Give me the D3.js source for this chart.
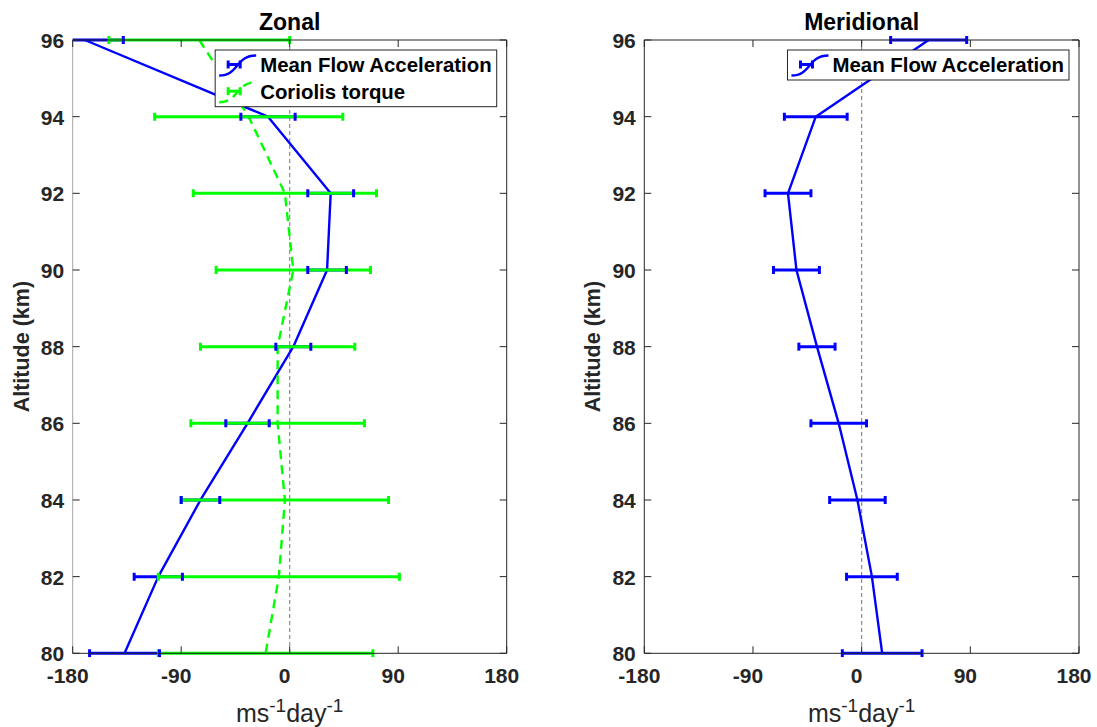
<!DOCTYPE html>
<html>
<head>
<meta charset="utf-8">
<script src="https://cdn.jsdelivr.net/npm/d3@7"></script>
<style>
  html, body { margin: 0; padding: 0; background: #fff; }
  svg { display: block; font-family: "Liberation Sans", Arial, sans-serif; }
</style>
</head>
<body>
<svg id="chart" width="1097" height="727"></svg>
<script>
// Altitude levels (km)
const altitudes = [80, 82, 84, 86, 88, 90, 92, 94, 96];

// Zonal mean flow acceleration and its uncertainty (m/s/day)
const zonalMFA    = [-137, -109, -74, -35, 3, 31, 34, -18, -170];
const zonalMFAErr = [29, 20, 16, 18, 14.5, 16, 19, 22.5, 32];

// Zonal Coriolis torque and its uncertainty (m/s/day)
const coriolis    = [-20, -9, -4, -10, -10, 3, -4, -34, -75];
const coriolisErr = [89, 100, 86, 72, 64, 64, 76, 78, 75];

// Meridional mean flow acceleration and its uncertainty (m/s/day)
const meridMFA    = [17, 8.5, -3.5, -19, -37, -54, -61, -38, 55.5];
const meridMFAErr = [33, 21, 23, 23, 15, 19, 19, 26, 31.5];

const xTicks = [-180, -90, 0, 90, 180];
const yTicks = [80, 82, 84, 86, 88, 90, 92, 94, 96];

const BLUE = "#0000ff", GREEN = "#00ff00", AXIS = "#262626";

const svg = d3.select("#chart");

const panels = [
  { title: "Zonal", left: 72.7, right: 506.7, leftAxisColor: "#a6a6a6",
    series: [
      { name: "Mean Flow Acceleration", vals: zonalMFA, errs: zonalMFAErr, color: BLUE, dash: null },
      { name: "Coriolis torque", vals: coriolis, errs: coriolisErr, color: GREEN, dash: "9,6" }
    ] },
  { title: "Meridional", left: 644.3, right: 1079, leftAxisColor: AXIS,
    series: [
      { name: "Mean Flow Acceleration", vals: meridMFA, errs: meridMFAErr, color: BLUE, dash: null }
    ] }
];

const plotTop = 40, plotBottom = 653.3;

panels.forEach((p, pi) => {
  const x = d3.scaleLinear().domain([-180, 180]).range([p.left, p.right]);
  const y = d3.scaleLinear().domain([80, 96]).range([plotBottom, plotTop]);
  const g = svg.append("g");
  const clipId = "clip" + pi;
  svg.append("clipPath").attr("id", clipId)
    .append("rect").attr("x", p.left).attr("y", plotTop - 4)
    .attr("width", p.right - p.left).attr("height", plotBottom - plotTop + 8);

  // zero reference line
  g.append("line")
    .attr("x1", x(0)).attr("x2", x(0)).attr("y1", plotTop).attr("y2", plotBottom)
    .attr("stroke", "#8c8c8c").attr("stroke-width", 1.2).attr("stroke-dasharray", "4,3");

  const plot = g.append("g").attr("clip-path", `url(#${clipId})`);

  const seriesData = p.series.map(s => ({
    ...s,
    pts: altitudes.map((a, i) => ({ alt: a, v: s.vals[i], e: s.errs[i] }))
      .sort((a, b) => b.alt - a.alt)
  }));

  const line = d3.line().x(d => x(d.v)).y(d => y(d.alt));

  // mean profiles
  seriesData.forEach(s => {
    plot.append("path").datum(s.pts)
      .attr("d", line).attr("fill", "none")
      .attr("stroke", s.color).attr("stroke-width", 2.4)
      .attr("stroke-linejoin", "round")
      .attr("stroke-dasharray", s.dash);
  });

  // horizontal error bars
  seriesData.forEach(s => {
    plot.append("g").selectAll("line").data(s.pts).join("line")
      .attr("x1", d => x(d.v - d.e)).attr("x2", d => x(d.v + d.e))
      .attr("y1", d => y(d.alt)).attr("y2", d => y(d.alt))
      .attr("stroke", s.color).attr("stroke-width", 3);
  });
  // end caps (drawn last so the primary series caps stay visible)
  seriesData.slice().reverse().forEach(s => {
    const caps = s.pts.flatMap(d => [{ alt: d.alt, v: d.v - d.e }, { alt: d.alt, v: d.v + d.e }]);
    plot.append("g").selectAll("line").data(caps).join("line")
      .attr("x1", d => x(d.v)).attr("x2", d => x(d.v))
      .attr("y1", d => y(d.alt) - 4).attr("y2", d => y(d.alt) + 4)
      .attr("stroke", s.color).attr("stroke-width", 3);
  });

  // axes box
  const box = g.append("g").attr("fill", "none").attr("stroke-width", 1);
  box.append("line").attr("x1", p.left).attr("x2", p.right).attr("y1", plotTop).attr("y2", plotTop).attr("stroke", AXIS);
  box.append("line").attr("x1", p.left).attr("x2", p.right).attr("y1", plotBottom).attr("y2", plotBottom).attr("stroke", AXIS);
  box.append("line").attr("x1", p.right).attr("x2", p.right).attr("y1", plotTop).attr("y2", plotBottom).attr("stroke", AXIS);
  box.append("line").attr("x1", p.left).attr("x2", p.left).attr("y1", plotTop).attr("y2", plotBottom).attr("stroke", p.leftAxisColor);

  // inward ticks
  const tickLen = 7;
  const xt = g.append("g").attr("stroke", AXIS);
  xTicks.forEach(t => {
    xt.append("line").attr("x1", x(t)).attr("x2", x(t)).attr("y1", plotBottom).attr("y2", plotBottom - tickLen);
    xt.append("line").attr("x1", x(t)).attr("x2", x(t)).attr("y1", plotTop).attr("y2", plotTop + tickLen);
  });
  yTicks.forEach(t => {
    xt.append("line").attr("x1", p.left).attr("x2", p.left + tickLen).attr("y1", y(t)).attr("y2", y(t));
    xt.append("line").attr("x1", p.right).attr("x2", p.right - tickLen).attr("y1", y(t)).attr("y2", y(t));
  });

  // tick labels
  g.append("g").selectAll("text").data(xTicks).join("text")
    .attr("x", d => x(d) - 5).attr("y", plotBottom + 30)
    .attr("text-anchor", "middle").attr("font-size", 21).attr("font-weight", "bold")
    .attr("fill", AXIS).text(d => d);
  g.append("g").selectAll("text").data(yTicks).join("text")
    .attr("x", p.left - 8.5).attr("y", d => y(d) + 8)
    .attr("text-anchor", "end").attr("font-size", 21).attr("font-weight", "bold")
    .attr("fill", AXIS).text(d => d);

  // title
  g.append("text").attr("x", (p.left + p.right) / 2).attr("y", plotTop - 10)
    .attr("text-anchor", "middle").attr("font-size", 23).attr("font-weight", "bold")
    .attr("fill", "#000").text(p.title);

  // axis labels
  g.append("text")
    .attr("transform", `translate(${p.left - 44},${(plotTop + plotBottom) / 2}) rotate(-90)`)
    .attr("text-anchor", "middle").attr("font-size", 21.5).attr("font-weight", "bold")
    .attr("fill", AXIS).text("Altitude (km)");

  const xl = g.append("text").attr("x", (p.left + p.right) / 2).attr("y", plotBottom + 68.5)
    .attr("text-anchor", "middle").attr("font-size", 25).attr("fill", AXIS);
  xl.append("tspan").text("ms");
  xl.append("tspan").attr("dy", -10).attr("font-size", 19).text("-1");
  xl.append("tspan").attr("dy", 10).text("day");
  xl.append("tspan").attr("dy", -10).attr("font-size", 19).text("-1");

  // legend
  const rowH = 26.7, padTop = 14.5;
  const lg = g.append("g");
  const texts = seriesData.map((s, i) =>
    lg.append("text").attr("font-size", 20.4).attr("font-weight", "bold").attr("fill", "#000")
      .text(s.name));
  const maxW = d3.max(texts, t => t.node().getComputedTextLength());
  const boxW = 45 + maxW + 5;
  const boxH = padTop * 2 + rowH * (seriesData.length - 1) + 1;
  const bx = p.right - 10 - boxW, by = plotTop + 10;
  lg.insert("rect", "text").attr("x", bx).attr("y", by).attr("width", boxW).attr("height", boxH)
    .attr("fill", "#fff").attr("stroke", AXIS).attr("stroke-width", 1);
  seriesData.forEach((s, i) => {
    const ry = by + padTop + i * rowH;
    texts[i].attr("x", bx + 45).attr("y", ry + 7.4);
    lg.append("path")
      .attr("d", `M${bx + 4},${ry + 11} C${bx + 24},${ry + 11} ${bx + 20},${ry - 9} ${bx + 41},${ry - 9}`)
      .attr("fill", "none").attr("stroke", s.color).attr("stroke-width", 2.4)
      .attr("stroke-dasharray", s.dash);
    lg.append("line").attr("x1", bx + 13).attr("x2", bx + 25).attr("y1", ry).attr("y2", ry)
      .attr("stroke", s.color).attr("stroke-width", 3);
    [13, 25].forEach(o => lg.append("line").attr("x1", bx + o).attr("x2", bx + o)
      .attr("y1", ry - 4).attr("y2", ry + 4).attr("stroke", s.color).attr("stroke-width", 3));
  });
});
</script>
</body>
</html>
